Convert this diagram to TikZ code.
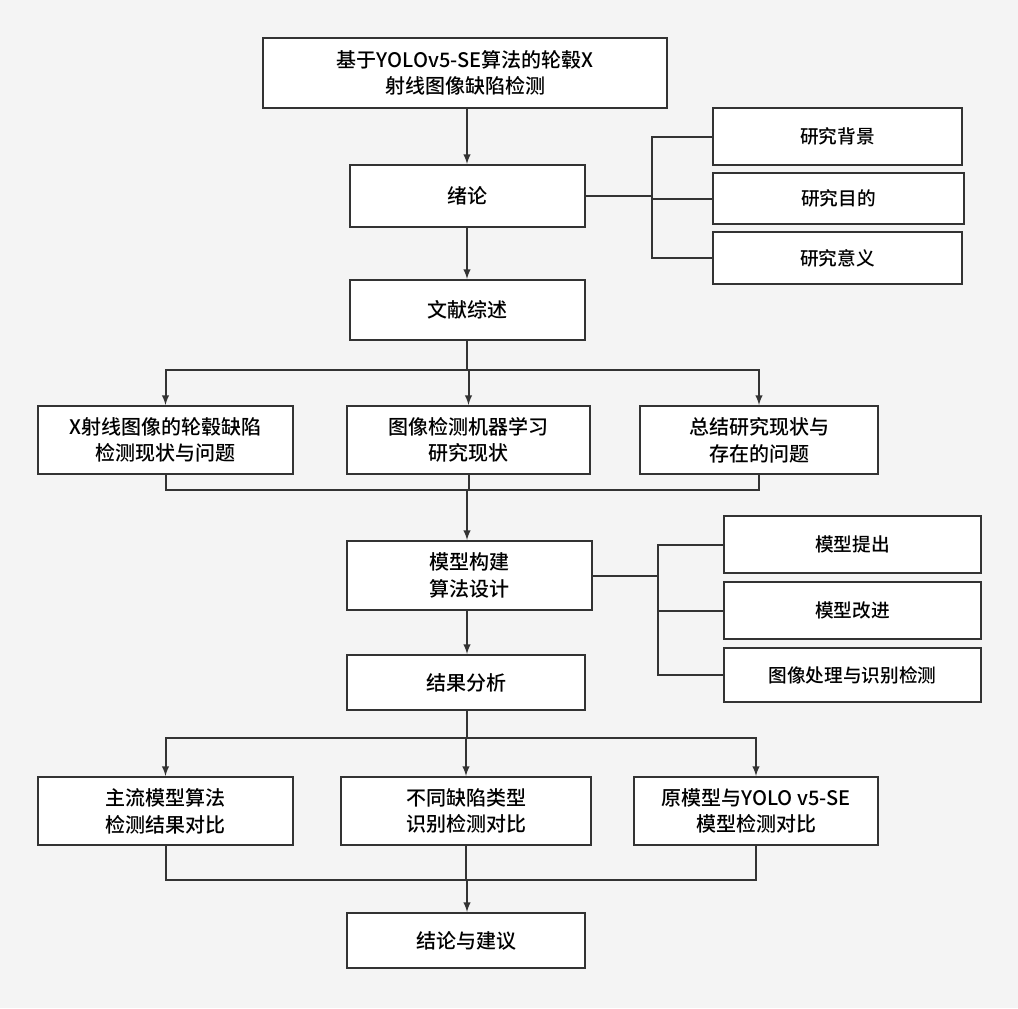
\documentclass[tikz,border=0pt]{standalone}
\usepackage{fontspec}
\newfontfamily\cjk{Noto Sans CJK SC Medium}
\usetikzlibrary{positioning}
\definecolor{bgcol}{HTML}{F4F4F4}
\definecolor{linecol}{HTML}{333333}
\tikzset{
  box/.style={draw=linecol, line width=1.5pt, fill=white, align=center,
    inner sep=0pt, font=\cjk\fontsize{15}{20}\selectfont},
  small/.style={font=\cjk\fontsize{14}{18}\selectfont},
  link/.style={draw=linecol, line width=1.5pt},
  arr/.style={link, -latex}
}
% box from left,top,right,bottom (pixel units)
\newcommand{\bx}[7][]{%
  \node[box, #1, minimum width={(#5-#3)*0.75pt}, minimum height={(#6-#4)*0.75pt}]
    (#2) at ({(#3+#5)/2},{(#4+#6)/2}) {#7};}
\begin{document}
\begin{tikzpicture}[x=0.75pt, y=-0.75pt]
\fill[bgcol] (0,0) rectangle (1018,1008);
\useasboundingbox (0,0) rectangle (1018,1008);

% --- main column ---
\bx{title}{263}{38}{667}{108}{基于YOLOv5-SE算法的轮毂X\\射线图像缺陷检测}
\bx{intro}{350}{165}{585}{227}{绪论}
\bx{review}{350}{280}{585}{340}{文献综述}
\bx{model}{347}{541}{592}{610}{模型构建\\算法设计}
\bx{result}{347}{655}{585}{710}{结果分析}
\bx{concl}{347}{913}{585}{968}{结论与建议}

% --- side boxes ---
\bx[small]{bg}{713}{108}{962}{165}{研究背景}
\bx[small]{aim}{713}{173}{964}{224}{研究目的}
\bx[small]{sig}{713}{232}{962}{284}{研究意义}
\bx[small]{propose}{724}{516}{981}{573}{模型提出}
\bx[small]{improve}{724}{582}{981}{639}{模型改进}
\bx[small]{detect}{724}{648}{981}{702}{图像处理与识别检测}

% --- rows ---
\bx{xray}{38}{406}{293}{474}{X射线图像的轮毂缺陷\\检测现状与问题}
\bx{ml}{347}{406}{590}{474}{图像检测机器学习\\研究现状}
\bx{sum}{640}{406}{878}{474}{总结研究现状与\\存在的问题}
\bx{main}{38}{777}{293}{845}{主流模型算法\\检测结果对比}
\bx{types}{341}{777}{591}{845}{不同缺陷类型\\识别检测对比}
\bx{orig}{634}{777}{878}{845}{原模型与YOLO v5-SE\\模型检测对比}

% --- connectors ---
\coordinate (c) at (467,0);
\draw[arr] (title.south -| c) -- (intro.north -| c);
\draw[arr] (intro.south -| c) -- (review.north -| c);
\draw[arr] (model.south -| c) -- (result.north -| c);

\coordinate (j1) at (652,196);
\draw[link] (intro.east |- j1) -- (j1);
\foreach \n in {bg,aim,sig} \draw[link] (j1) |- (\n.west);

\coordinate (j2) at (658,576);
\draw[link] (model.east |- j2) -- (j2);
\foreach \n in {propose,improve,detect} \draw[link] (j2) |- (\n.west);

\coordinate (s1) at (467,370);
\draw[link] (review.south -| c) -- (s1);
\foreach \n in {xray,ml,sum} \draw[arr] (s1) -| (\n.north);

\coordinate (m1) at (467,490);
\foreach \n in {xray,ml,sum} \draw[link] (\n.south) |- (m1);
\draw[arr] (m1) -- (model.north -| c);

\coordinate (s2) at (467,738);
\draw[link] (result.south -| c) -- (s2);
\foreach \n in {main,types,orig} \draw[arr] (s2) -| (\n.north);

\coordinate (m2) at (467,880);
\foreach \n in {main,types,orig} \draw[link] (\n.south) |- (m2);
\draw[arr] (m2) -- (concl.north -| c);
\end{tikzpicture}
\end{document}
